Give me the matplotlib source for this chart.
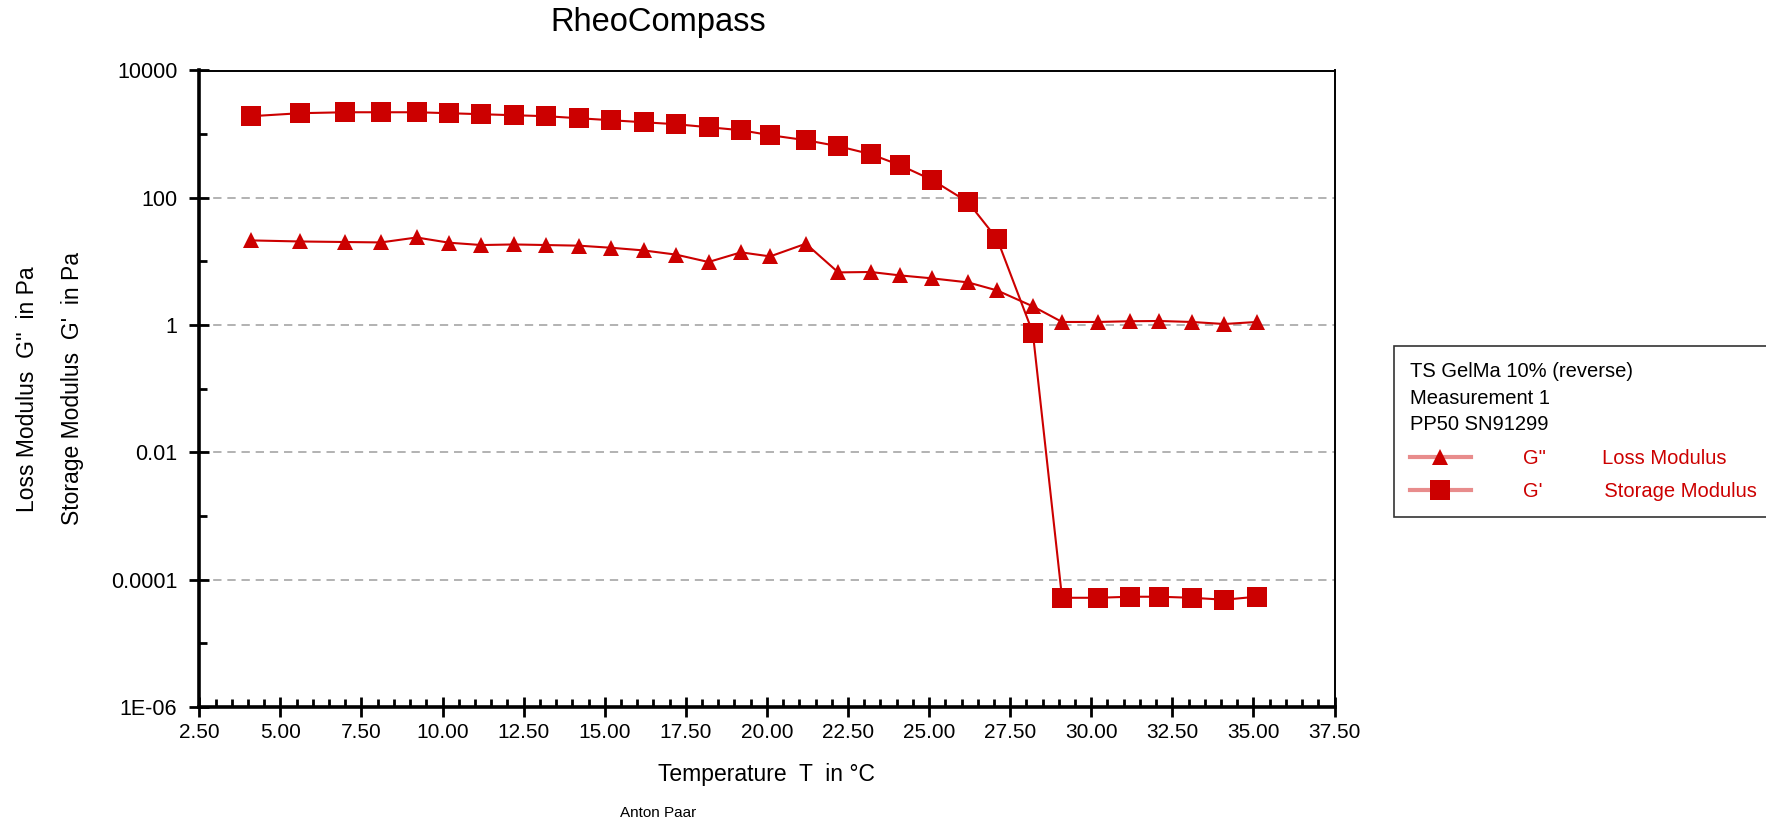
import matplotlib
matplotlib.use('Agg')
import matplotlib.pyplot as plt
from matplotlib.lines import Line2D
from matplotlib.ticker import FixedLocator, FixedFormatter, MultipleLocator, FormatStrFormatter

plt.rcParams['font.family'] = ['Liberation Sans', 'DejaVu Sans']

# temperature sweep
temperature = [4.1, 5.6, 7.0, 8.1, 9.2, 10.2, 11.2, 12.2, 13.2, 14.2, 15.2,
               16.2, 17.2, 18.2, 19.2, 20.1, 21.2, 22.2, 23.2, 24.1, 25.1,
               26.2, 27.1, 28.2, 29.1, 30.2, 31.2, 32.1, 33.1, 34.1, 35.1]
storage_modulus = [1914, 2133, 2208, 2208, 2208, 2133, 2056, 1983, 1914, 1778, 1654,
                   1538, 1432, 1285, 1153, 963, 804, 647, 485, 326, 190,
                   85.7, 22.5, 0.755, 5.2e-5, 5.2e-5, 5.4e-5, 5.4e-5, 5.2e-5, 4.85e-5, 5.4e-5]
loss_modulus = [21.4, 20.6, 20.2, 19.9, 23.8, 19.7, 18.1, 18.5, 18.1, 17.7, 16.4,
                14.9, 12.8, 9.8, 13.9, 12.0, 19.0, 6.73, 6.83, 6.04, 5.42,
                4.69, 3.5, 1.97, 1.12, 1.12, 1.15, 1.16, 1.12, 1.04, 1.12]

ytick_values = [1e4, 1e2, 1, 1e-2, 1e-4, 1e-6]
ytick_labels = ['10000', '100', '1', '0.01', '0.0001', '1E-06']
ytick_minor = [1e3, 1e1, 1e-1, 1e-3, 1e-5]

legend_header = ['TS GelMa 10% (reverse)', 'Measurement 1', 'PP50 SN91299']
legend_labels = ['G"          Loss Modulus', "G'           Storage Modulus"]

red = '#CC0000'
W, H = 1766, 824

fig = plt.figure(figsize=(W / 100, H / 100), dpi=100)
ax = fig.add_axes([199.3 / W, 1 - 707 / H, (1334.5 - 199.3) / W, (707 - 70.5) / H])

ax.plot(temperature, loss_modulus, color=red, lw=1.5, marker='^', ms=12, mew=0, zorder=3, clip_on=False)
ax.plot(temperature, storage_modulus, color=red, lw=1.5, marker='s', ms=15, mew=0, zorder=3, clip_on=False)

ax.set_yscale('log')
ax.set_ylim(1e-6, 1e4)
ax.set_xlim(2.5, 37.5)
ax.yaxis.set_major_locator(FixedLocator(ytick_values))
ax.yaxis.set_major_formatter(FixedFormatter(ytick_labels))
ax.yaxis.set_minor_locator(FixedLocator(ytick_minor))
ax.yaxis.set_minor_formatter(FixedFormatter([''] * len(ytick_minor)))
ax.xaxis.set_major_locator(MultipleLocator(2.5))
ax.xaxis.set_minor_locator(MultipleLocator(0.5))
ax.xaxis.set_major_formatter(FormatStrFormatter('%.2f'))

ax.yaxis.grid(True, which='major', color='#a6a6a6', lw=1.2, linestyle=(0, (5, 3.5)))
ax.set_axisbelow(True)

ax.tick_params(axis='both', which='major', direction='inout', length=14.4, width=2,
               labelsize=15, colors='black')
ax.tick_params(axis='x', which='major', pad=4)
ax.tick_params(axis='y', which='major', pad=8.6, labelsize=15.5)
ax.tick_params(axis='both', which='minor', direction='in', length=5.5, width=2)

for side in ['left', 'bottom']:
    ax.spines[side].set_linewidth(2.6)
for side in ['top', 'right']:
    ax.spines[side].set_linewidth(1.4)

ax.set_xlabel('Temperature  T  in °C', fontsize=16.5)
ax.xaxis.set_label_coords(0.5, -(775 - 707) / 636.5)
ax.xaxis.label.set_va('center')

ax.set_ylabel("Loss Modulus  G''  in Pa\nStorage Modulus  G'  in Pa", fontsize=16.5, linespacing=2.23)
ax.yaxis.set_label_coords((50.3 - 199.3) / 1135.2, 0.5)
ax.yaxis.label.set_va('center')

fig.text(658 / W, 1 - 22.5 / H, 'RheoCompass', ha='center', va='center', fontsize=23.5)
fig.text(658 / W, 1 - 813 / H, 'Anton Paar', ha='center', va='center', fontsize=11)

handles = [
    Line2D([], [], color=(0.8, 0, 0, 0.45), lw=3, marker='^', ms=12, mfc=red, mec=red, mew=0),
    Line2D([], [], color=(0.8, 0, 0, 0.45), lw=3, marker='s', ms=15, mfc=red, mec=red, mew=0),
]
leg = fig.legend(handles, legend_labels, loc='upper left', bbox_to_anchor=(1394 / W, 1 - 346 / H),
                 bbox_transform=fig.transFigure, borderaxespad=0, frameon=True, fancybox=False,
                 edgecolor='black', fontsize=14.5, labelcolor=red, title='\n'.join(legend_header),
                 title_fontsize=14.5, alignment='left', handlelength=3.0, handletextpad=2.6,
                 borderpad=0.8, labelspacing=0.72, numpoints=1)
leg.get_frame().set_linewidth(1.2)
leg.get_title().set_linespacing(1.5)

fig.savefig('out.png', dpi=100)
